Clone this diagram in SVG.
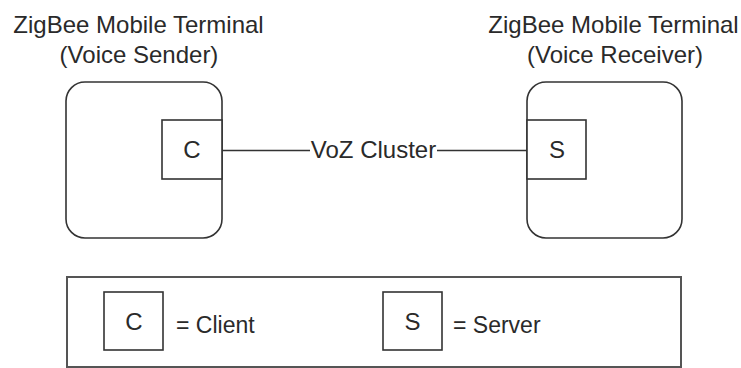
<svg xmlns="http://www.w3.org/2000/svg" width="741" height="368" viewBox="0 0 741 368">
<style>
  text { font-family: "Liberation Sans", Arial, sans-serif; fill: #2a2a2a; }
  .t { font-size: 24px; text-anchor: middle; }
  .l { font-size: 23px; }
  .box { fill: #fff; stroke: #333; stroke-width: 1.6; }
  .leg { fill: none; stroke: #555; stroke-width: 2; }
  .conn { stroke: #333; stroke-width: 1.6; fill: none; }
</style>
<rect width="741" height="368" fill="#fff"/>
<g id="sender">
  <text class="t" x="138.5" y="33">ZigBee Mobile Terminal</text>
  <text class="t" x="139" y="63">(Voice Sender)</text>
  <rect class="box" x="66" y="82" width="156" height="156" rx="19" ry="19"/>
</g>
<g id="client">
  <rect class="box" x="162" y="120" width="60" height="59"/>
  <text class="t" x="192" y="158">C</text>
</g>
<g id="receiver">
  <text class="t" x="613.5" y="33">ZigBee Mobile Terminal</text>
  <text class="t" x="615" y="63">(Voice Receiver)</text>
  <rect class="box" x="527" y="82" width="155" height="156" rx="19" ry="19"/>
</g>
<g id="server">
  <rect class="box" x="527" y="120" width="59" height="59"/>
  <text class="t" x="557" y="158">S</text>
</g>
<g id="connectors">
  <line class="conn" x1="222" y1="150.5" x2="310" y2="150.5"/>
  <line class="conn" x1="437" y1="150.5" x2="527" y2="150.5"/>
  <text class="t" x="373.5" y="158">VoZ Cluster</text>
</g>
<g id="legend">
  <rect class="leg" x="67" y="277" width="614" height="90"/>
  <rect class="box" x="104" y="292" width="59" height="58"/>
  <text class="t" x="134" y="330">C</text>
  <text class="l" x="176" y="333">= Client</text>
  <rect class="box" x="383" y="292" width="59" height="58"/>
  <text class="t" x="412.5" y="330">S</text>
  <text class="l" x="453" y="333">= Server</text>
</g>
</svg>
